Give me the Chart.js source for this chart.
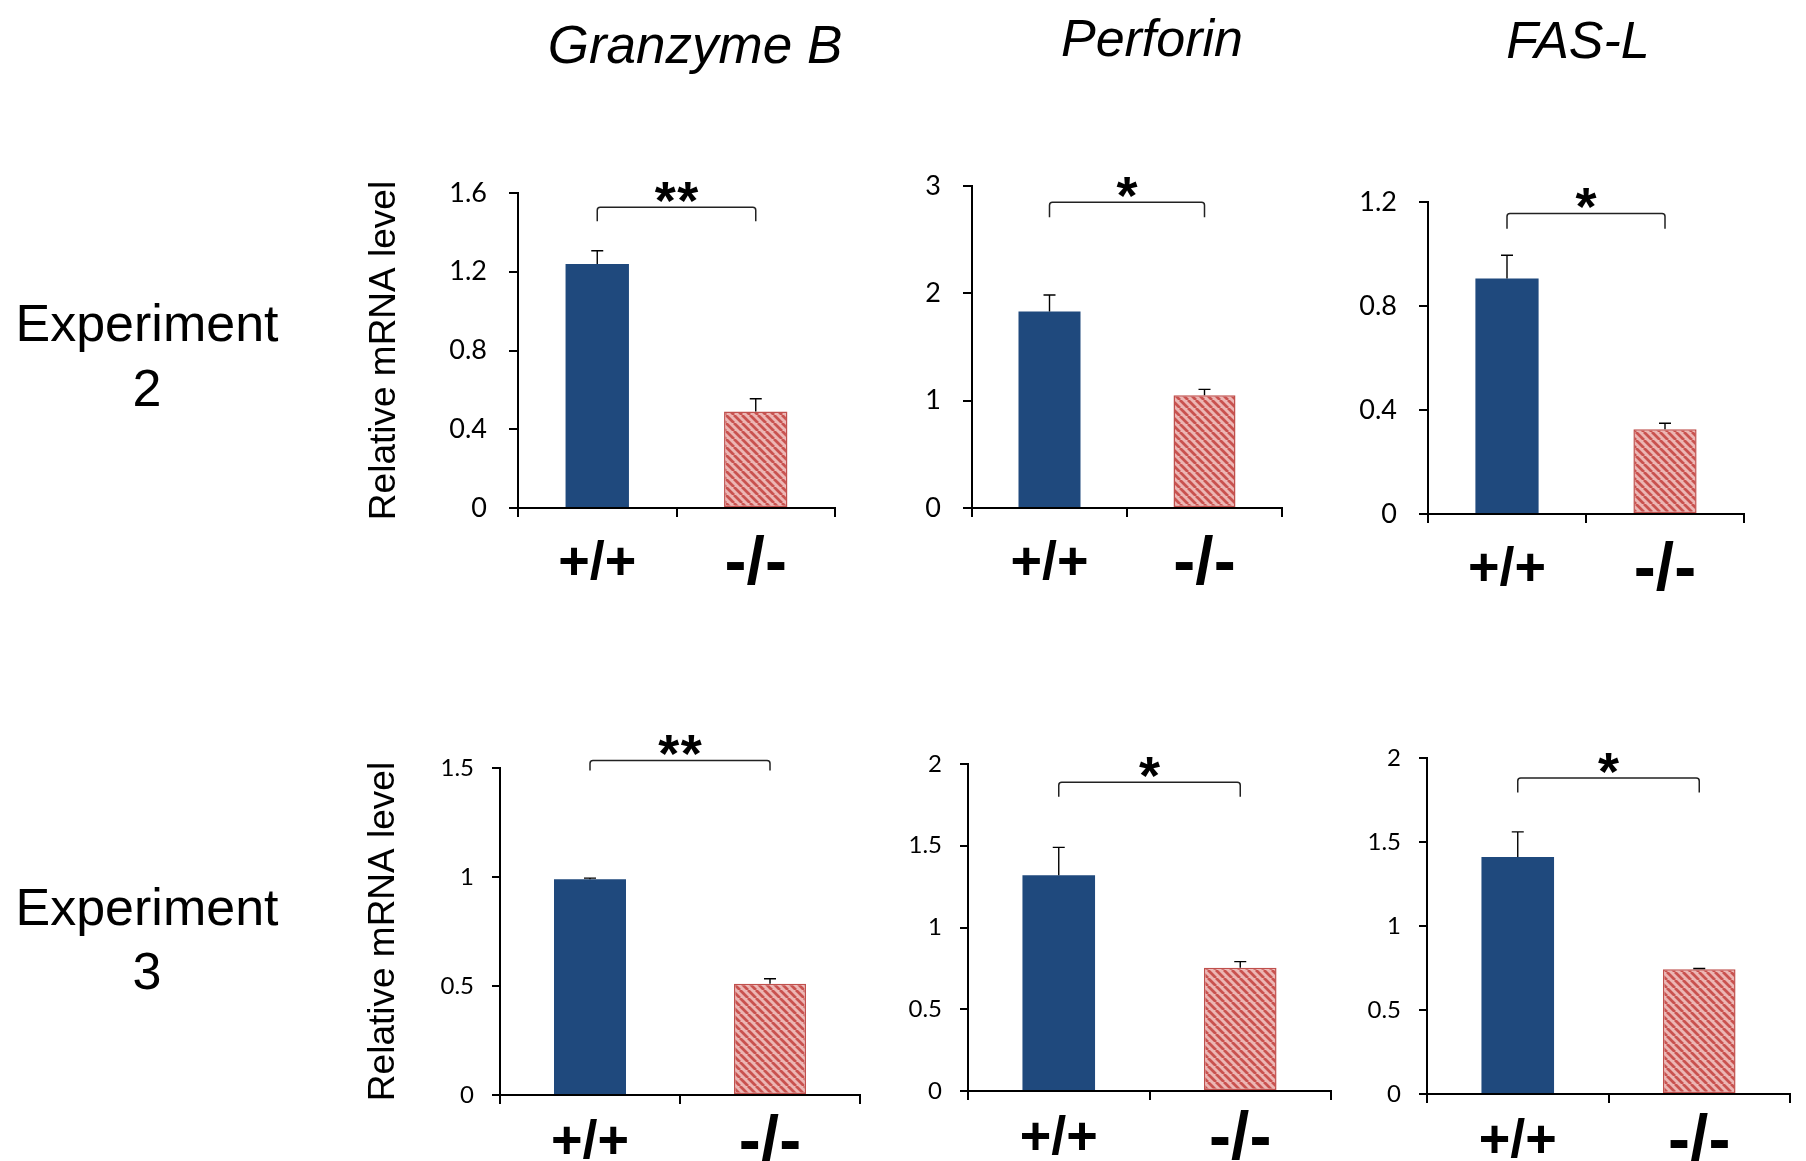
<!DOCTYPE html>
<html>
<head>
<meta charset="utf-8">
<script src="https://cdn.jsdelivr.net/npm/chart.js@4"></script>
<style>
  html, body { margin: 0; padding: 0; background: #fff; }
  body { width: 1806px; height: 1161px; position: relative; overflow: hidden; font-family: "Liberation Sans", Arial, sans-serif; color: #000; }
  .panel { position: absolute; }
  .gene { position: absolute; font-style: italic; line-height: 1; white-space: nowrap; text-align: center; width: 400px; }
  .exp { position: absolute; width: 300px; text-align: center; font-size: 52px; }
</style>
</head>
<body>
<div class="gene" style="left:495px; top:18px; font-size:53px;">Granzyme B</div>
<div class="gene" style="left:952px; top:12px; font-size:52px;">Perforin</div>
<div class="gene" style="left:1378px; top:14px; font-size:52px;">FAS-L</div>
<div class="exp" style="left:-3px; top:291px; line-height:65px;">Experiment<br>2</div>
<div class="exp" style="left:-3px; top:875px; line-height:64px;">Experiment<br>3</div>

<script>
/**
 * Relative mRNA level of cytotoxic genes, +/+ vs -/-
 * Six small bar panels (two experiments x three genes)
 */

const CATEGORIES = ['+/+', '-/-'];
const Y_TITLE = 'Relative mRNA level';

// Experiment 2: means and upper error (SD)
const granzymeExp2 = [1.24, 0.49];
const granzymeExp2Err = [0.067, 0.065];
const perforinExp2 = [1.83, 1.05];
const perforinExp2Err = [0.155, 0.055];
const faslExp2 = [0.906, 0.326];
const faslExp2Err = [0.089, 0.023];

// Experiment 3
const granzymeExp3 = [0.99, 0.51];
const granzymeExp3Err = [0.005, 0.023];
const perforinExp3 = [1.32, 0.754];
const perforinExp3Err = [0.17, 0.037];
const faslExp3 = [1.41, 0.743];
const faslExp3Err = [0.15, 0.004];

// Significance marks and bracket levels (data units: bar top, leg end)
const exp2Stars = ['**', '*', '*'];
const exp3Stars = ['**', '*', '*'];
const exp2Bracket = [[1.527, 1.456], [2.848, 2.709], [1.156, 1.097]];
const exp3Bracket = [[1.534, 1.489], [1.889, 1.80], [1.881, 1.795]];

// Y axis ranges
const exp2AxisMax = [1.6, 3, 1.2];
const exp2AxisStep = [0.4, 1, 0.4];
const exp3AxisMax = [1.5, 2, 2];
const exp3AxisStep = [0.5, 0.5, 0.5];

// Layout: [axis left x, axis right x, top tick y, zero y] in page pixels
const exp2Boxes = [[518, 835, 193.3, 508.3], [971.7, 1281.7, 186, 508.3], [1427.7, 1743.3, 201.7, 513.3]];
const exp3Boxes = [[500, 860, 768.3, 1095], [968.3, 1331.7, 764.3, 1091.7], [1427.3, 1790, 758.3, 1094]];

const BLUE = '#1F497D';
const RED_EDGE = '#C0504D';
const SPACE_LEFT = 200;
const SPACE_TOP = 90;
const SPACE_RIGHT = 12;
const SPACE_BOTTOM = 110;
const LABEL_FONT = '"Liberation Sans", Arial, sans-serif';

/**
 * Diagonal red/pink hatch used for the -/- bars
 */
function makeHatch() {
  const size = 8;
  const c = document.createElement('canvas');
  c.width = size;
  c.height = size;
  const g = c.getContext('2d');
  g.fillStyle = '#ECB6B4';
  g.fillRect(0, 0, size, size);
  g.strokeStyle = '#C9524F';
  g.lineWidth = 2.8;
  g.beginPath();
  for (let k = -1; k <= 1; k++) {
    g.moveTo(k * size, 0);
    g.lineTo(k * size + size, size);
  }
  g.stroke();
  return g.createPattern(c, 'repeat');
}

// Error bars, bracket and stars
const annotationPlugin = {
  id: 'sigAnnotations',
  afterDatasetsDraw(chart, args, opts) {
    const ctx = chart.ctx;
    const y = chart.scales.y;
    const xs = chart.scales.x;
    const meta = chart.getDatasetMeta(0);
    const ds = chart.data.datasets[0];

    ctx.save();
    ctx.strokeStyle = '#000';
    ctx.lineWidth = 1.4;
    meta.data.forEach((bar, i) => {
      const top = y.getPixelForValue(ds.data[i] + opts.errors[i]);
      ctx.beginPath();
      ctx.moveTo(bar.x, bar.y);
      ctx.lineTo(bar.x, top);
      ctx.moveTo(bar.x - 6, top);
      ctx.lineTo(bar.x + 6, top);
      ctx.stroke();
    });

    // bracket
    const xl = xs.getPixelForValue(0);
    const xr = xs.getPixelForValue(1);
    const yb = y.getPixelForValue(opts.bracket[0]);
    const yl = y.getPixelForValue(opts.bracket[1]);
    const r = 3;
    ctx.strokeStyle = '#222';
    ctx.lineWidth = 1.5;
    ctx.beginPath();
    ctx.moveTo(xl, yl);
    ctx.lineTo(xl, yb + r);
    ctx.quadraticCurveTo(xl, yb, xl + r, yb);
    ctx.lineTo(xr - r, yb);
    ctx.quadraticCurveTo(xr, yb, xr, yb + r);
    ctx.lineTo(xr, yl);
    ctx.stroke();

    // stars, one glyph at a time so they keep their gap
    const size = 54;
    const gap = 22.5;
    const n = opts.stars.length;
    const mid = (xl + xr) / 2;
    ctx.fillStyle = '#000';
    ctx.font = 'bold ' + size + 'px ' + LABEL_FONT;
    ctx.textAlign = 'center';
    ctx.textBaseline = 'alphabetic';
    for (let k = 0; k < n; k++) {
      const cx = mid + (k - (n - 1) / 2) * gap;
      ctx.fillText(opts.stars[k], cx, yb - 19.5 + 0.58 * size);
    }
    ctx.restore();
  }
};

/**
 * Build one bar panel
 */
function buildPanel(box, means, errors, stars, bracket, max, step, row, showTitle) {
  const [x0, x1, yTop, y0] = box;
  const left = x0 - SPACE_LEFT;
  const top = yTop - SPACE_TOP;
  const width = Math.round(x1 - x0 + SPACE_LEFT + SPACE_RIGHT);
  const height = Math.round(y0 - yTop + SPACE_TOP + SPACE_BOTTOM);

  const wrap = document.createElement('div');
  wrap.className = 'panel';
  wrap.style.left = left + 'px';
  wrap.style.top = top + 'px';
  const canvas = document.createElement('canvas');
  canvas.width = width;
  canvas.height = height;
  canvas.style.width = width + 'px';
  canvas.style.height = height + 'px';
  wrap.appendChild(canvas);
  document.body.appendChild(wrap);

  const isExp2 = row === 2;
  const titleSize = 37;
  // Title centre x (page px)
  const titleCenter = isExp2 ? 385 : 383.3;
  const titlePad = titleCenter - left - titleSize * 0.6;

  return new Chart(canvas, {
    type: 'bar',
    data: {
      labels: CATEGORIES,
      datasets: [{
        data: means,
        backgroundColor: [BLUE, makeHatch()],
        borderColor: [BLUE, RED_EDGE],
        borderWidth: [0, 1.5],
        borderSkipped: false,
        barPercentage: 0.4,
        categoryPercentage: 1
      }]
    },
    options: {
      responsive: false,
      animation: false,
      events: [],
      layout: {
        padding: { top: SPACE_TOP, right: SPACE_RIGHT, left: 0, bottom: 0 }
      },
      plugins: {
        legend: { display: false },
        tooltip: { enabled: false },
        sigAnnotations: { errors, stars, bracket }
      },
      scales: {
        x: {
          grid: {
            offset: true,
            drawOnChartArea: false,
            drawTicks: true,
            tickLength: 9,
            color: '#000',
            lineWidth: 2
          },
          border: { color: '#000', width: 2 },
          ticks: {
            color: '#000',
            autoSkip: false,
            maxRotation: 0,
            padding: isExp2 ? 15 : 7,
            // the -/- label is set larger in the original
            font: c => c.index === 1
              ? { family: LABEL_FONT, weight: 'bold', size: 66, lineHeight: 64.8 / 66 }
              : { family: LABEL_FONT, weight: 'bold', size: 54, lineHeight: 1.2 }
          },
          afterFit: s => { s.height = SPACE_BOTTOM; }
        },
        y: {
          min: 0,
          max: max,
          grid: {
            drawOnChartArea: false,
            drawTicks: true,
            tickLength: isExp2 ? 9 : 8,
            color: '#000',
            lineWidth: 2
          },
          border: { color: '#000', width: 2 },
          ticks: {
            stepSize: step,
            color: '#000',
            padding: isExp2 ? 22 : 18,
            font: { family: 'Lato, "Open Sans", sans-serif', size: isExp2 ? 27 : 24 },
            callback: v => String(Math.round(v * 10) / 10)
          },
          title: {
            display: showTitle,
            text: Y_TITLE,
            color: '#000',
            font: { family: LABEL_FONT, size: titleSize },
            padding: { top: titlePad, bottom: 0 }
          },
          afterFit: s => { s.width = SPACE_LEFT; }
        }
      }
    },
    plugins: [annotationPlugin]
  });
}

const exp2Means = [granzymeExp2, perforinExp2, faslExp2];
const exp2Errs = [granzymeExp2Err, perforinExp2Err, faslExp2Err];
const exp3Means = [granzymeExp3, perforinExp3, faslExp3];
const exp3Errs = [granzymeExp3Err, perforinExp3Err, faslExp3Err];

for (let i = 0; i < 3; i++) {
  buildPanel(exp2Boxes[i], exp2Means[i], exp2Errs[i], exp2Stars[i], exp2Bracket[i],
    exp2AxisMax[i], exp2AxisStep[i], 2, i === 0);
  buildPanel(exp3Boxes[i], exp3Means[i], exp3Errs[i], exp3Stars[i], exp3Bracket[i],
    exp3AxisMax[i], exp3AxisStep[i], 3, i === 0);
}
</script>
</body>
</html>
